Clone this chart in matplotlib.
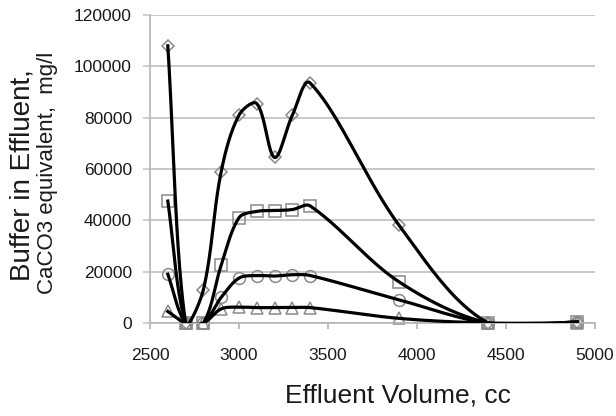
import numpy as np
import matplotlib
matplotlib.use("Agg")
from matplotlib import pyplot as plt

plt.rcParams['font.family'] = ['Liberation Sans', 'DejaVu Sans']

volume = [2600, 2700, 2800, 2900, 3000, 3100, 3200, 3300, 3400, 3900, 4400, 4900]

buffer_diamond = [108000, 0, 13000, 59000, 81000, 85500, 64500, 81000, 93500, 38000, 0, 500]
buffer_square = [47500, 0, 0, 22500, 41000, 43500, 43800, 44200, 45600, 16000, 0, 300]
buffer_circle = [19000, 0, 0, 10000, 17500, 18500, 18300, 18800, 18500, 9000, 0, 200]
buffer_triangle = [4500, 0, 0, 5500, 6200, 6000, 6000, 6000, 6000, 1800, 0, 100]

x_ticks = [2500, 3000, 3500, 4000, 4500, 5000]
y_ticks = [0, 20000, 40000, 60000, 80000, 100000, 120000]


def smooth_curve(ax, xs, ys, n=40):
    # bezier smoothing in screen space, tangents weighted by segment length
    pts = ax.transData.transform(np.column_stack([xs, ys]))
    m = len(pts)
    out = [pts[0]]
    for i in range(m - 1):
        p0 = pts[i]
        p1 = pts[i + 1]
        prev = pts[i - 1] if i > 0 else p0
        nxt = pts[i + 2] if i + 2 < m else p1
        d0 = np.linalg.norm(p0 - prev)
        d1 = np.linalg.norm(p1 - p0)
        d2 = np.linalg.norm(nxt - p1)
        t = 1.0 / 3.0
        c1 = p0 + (p1 - prev) * t * (d1 / (d0 + d1) if d0 + d1 > 0 else 0)
        c2 = p1 - (nxt - p0) * t * (d1 / (d1 + d2) if d1 + d2 > 0 else 0)
        s = np.linspace(0, 1, n)[1:, None]
        seg = ((1 - s) ** 3) * p0 + 3 * ((1 - s) ** 2) * s * c1 + 3 * (1 - s) * s ** 2 * c2 + s ** 3 * p1
        out.extend(seg)
    out = np.array(out)
    data = ax.transData.inverted().transform(out)
    return data[:, 0], data[:, 1]


fig = plt.figure(figsize=(6.16, 4.16), dpi=100)
ax = fig.add_axes([150 / 616, 93 / 416, 445 / 616, 308 / 416])
ax.set_xlim(2500, 5000)
ax.set_ylim(0, 120000)

grid_col = "#c8c8c8"
ax.set_yticks(y_ticks)
ax.set_xticks(x_ticks)
ax.yaxis.grid(True, color=grid_col, linewidth=1.4)
ax.set_axisbelow(True)
for side in ["top", "right"]:
    ax.spines[side].set_visible(False)
ax.spines["left"].set_color("#b4b4b4")
ax.spines["bottom"].set_color("#b4b4b4")
ax.spines["left"].set_linewidth(1.2)
ax.spines["bottom"].set_linewidth(1.2)
ax.tick_params(axis="y", length=5, width=1.2, color=grid_col, pad=8, labelsize=12.5, labelcolor="#1a1a1a")
ax.tick_params(axis="x", length=4, width=1.2, color="#b4b4b4", pad=14, labelsize=12.5, labelcolor="#1a1a1a")

series = [
    (buffer_diamond, "D", 6.5),
    (buffer_square, "s", 8.5),
    (buffer_circle, "o", 8.5),
    (buffer_triangle, "^", 8.5),
]
for ys, mk, ms in series:
    sx, sy = smooth_curve(ax, volume, ys)
    ax.plot(volume, ys, linestyle="none", marker=mk, markersize=ms, clip_on=False,
            markerfacecolor="none", markeredgecolor="#8a8a8a", markeredgewidth=1.1, zorder=2)
    ax.plot(sx, sy, color="black", linewidth=2.3, zorder=3)

fig.text(398 / 616, 1 - 396 / 416, "Effluent Volume, cc", fontsize=19,
         ha="center", va="center", color="#1a1a1a")
fig.text(23 / 616, 1 - 175 / 416, "Buffer in Effluent,", fontsize=20, rotation=90,
         ha="center", va="center", color="#1a1a1a")
fig.text(48 / 616, 1 - 173 / 416, "CaCO3 equivalent,  mg/l", fontsize=16, rotation=90,
         ha="center", va="center", color="#1a1a1a")

fig.savefig("out.png", dpi=100)
